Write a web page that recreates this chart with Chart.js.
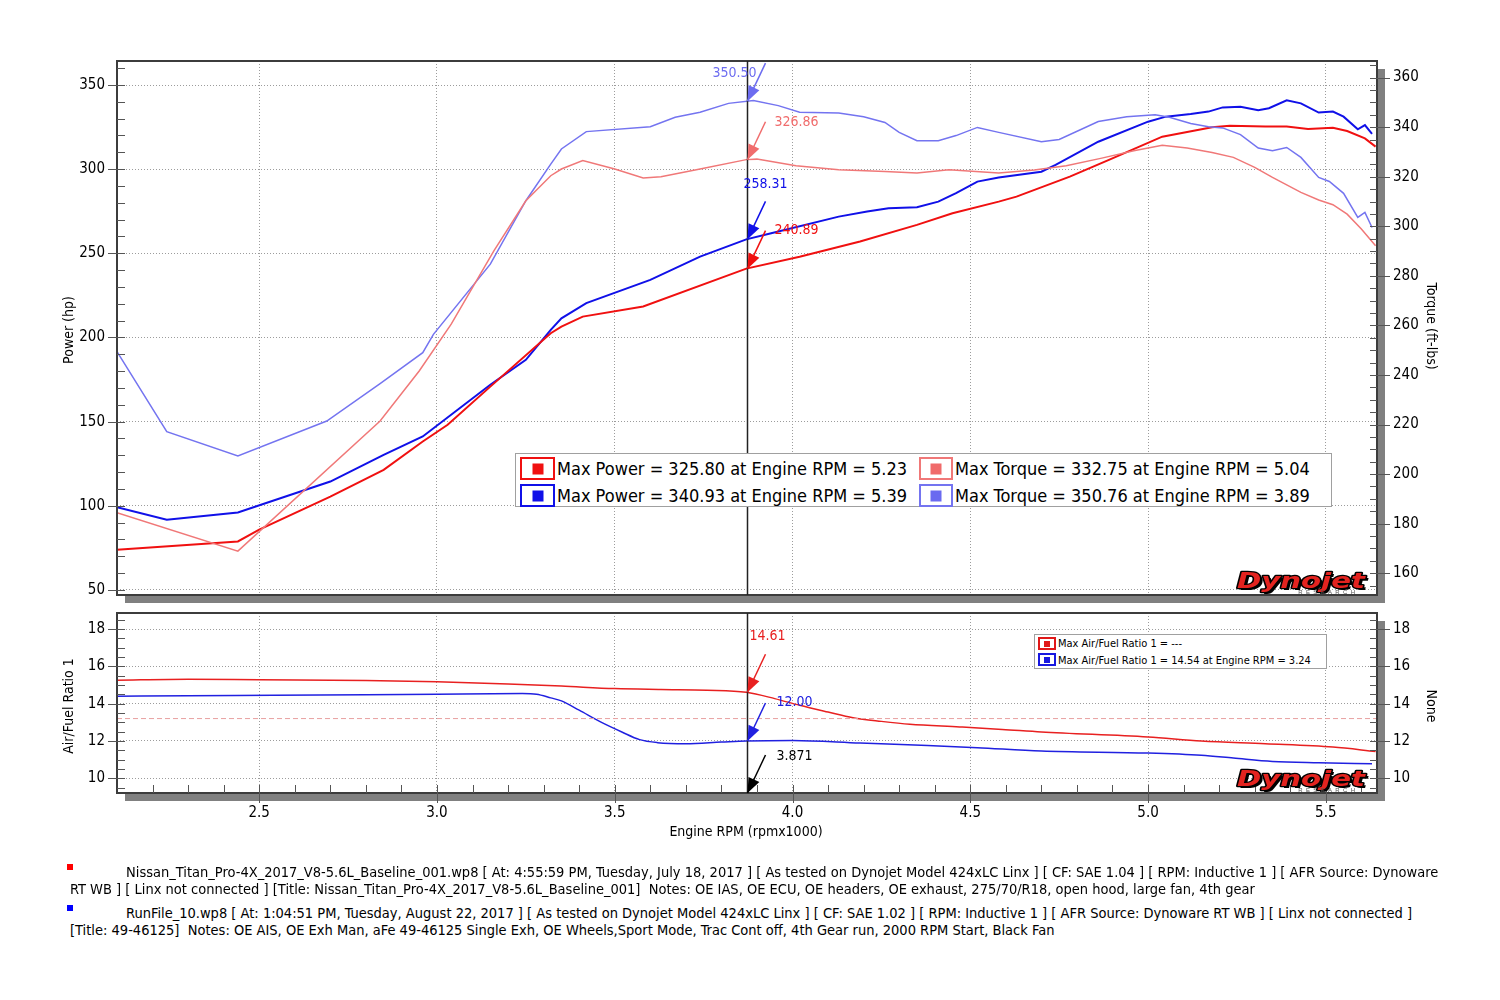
<!DOCTYPE html>
<html>
<head>
<meta charset="utf-8">
<script src="https://cdn.jsdelivr.net/npm/chart.js@4.4.1/dist/chart.umd.min.js"></script>
<style>
  html, body { margin: 0; padding: 0; background: #fff; }
  body { width: 1500px; height: 1000px; position: relative; overflow: hidden;
         font-family: "DejaVu Sans Condensed", "Liberation Sans", sans-serif; color: #000; }
  canvas { position: absolute; left: 0; }
  .ttl { position: absolute; font-size: 14px; white-space: nowrap; transform-origin: center; }
  .box { position: absolute; box-sizing: border-box; background: #fff; border: 1px solid #a0a0a0; }
  .ico { position: absolute; box-sizing: border-box; border: 2px solid; }
  .ico i { position: absolute; left: 50%; top: 50%; transform: translate(-50%, -50%); }
  .txt { position: absolute; white-space: pre; }
  .foot { position: absolute; font-size: 14.5px; white-space: pre; line-height: 17px; }
  .mark { position: absolute; width: 6px; height: 6px; }
</style>
</head>
<body>
<canvas id="top" width="1500" height="620" style="top:0"></canvas>
<canvas id="bottom" width="1500" height="260" style="top:600px"></canvas>

<div class="ttl" style="left:68px;top:330px;transform:translate(-50%,-50%) rotate(-90deg)">Power (hp)</div>
<div class="ttl" style="left:1432px;top:326px;transform:translate(-50%,-50%) rotate(90deg)">Torque (ft-lbs)</div>
<div class="ttl" style="left:68px;top:706px;transform:translate(-50%,-50%) rotate(-90deg)">Air/Fuel Ratio 1</div>
<div class="ttl" style="left:1432px;top:706px;transform:translate(-50%,-50%) rotate(90deg)">None</div>
<div class="ttl" style="left:746px;top:831px;transform:translate(-50%,-50%)">Engine RPM (rpmx1000)</div>

<!-- power / torque legend -->
<div class="box" style="left:515px;top:453px;width:817px;height:54px"></div>
<div class="ico" style="left:520px;top:457px;width:35px;height:23px;border-color:#f01010"><i style="width:11px;height:11px;background:#f01010"></i></div>
<div class="ico" style="left:520px;top:484px;width:35px;height:23px;border-color:#1010e8"><i style="width:11px;height:11px;background:#1010e8"></i></div>
<div class="ico" style="left:919px;top:457px;width:34px;height:23px;border-color:#f07878"><i style="width:11px;height:11px;background:#f06a6a"></i></div>
<div class="ico" style="left:919px;top:484px;width:34px;height:23px;border-color:#7474f0"><i style="width:11px;height:11px;background:#6a6af0"></i></div>
<div class="txt" style="left:557px;top:457px;font-size:18px;line-height:23px">Max Power = 325.80 at Engine RPM = 5.23</div>
<div class="txt" style="left:557px;top:484px;font-size:18px;line-height:23px">Max Power = 340.93 at Engine RPM = 5.39</div>
<div class="txt" style="left:955px;top:457px;font-size:18px;line-height:23px">Max Torque = 332.75 at Engine RPM = 5.04</div>
<div class="txt" style="left:955px;top:484px;font-size:18px;line-height:23px">Max Torque = 350.76 at Engine RPM = 3.89</div>

<!-- AFR legend -->
<div class="box" style="left:1034px;top:634px;width:293px;height:35px"></div>
<div class="ico" style="left:1038px;top:637px;width:18px;height:13px;border-color:#e01818"><i style="width:6px;height:6px;background:#e01818"></i></div>
<div class="ico" style="left:1038px;top:653px;width:18px;height:13px;border-color:#1818e0"><i style="width:6px;height:6px;background:#1818e0"></i></div>
<div class="txt" style="left:1058px;top:637px;font-size:11px;line-height:14px">Max Air/Fuel Ratio 1 = ---</div>
<div class="txt" style="left:1058px;top:654px;font-size:11px;line-height:14px">Max Air/Fuel Ratio 1 = 14.54 at Engine RPM = 3.24</div>

<!-- run notes -->
<div class="mark" style="left:67px;top:864px;background:#f00"></div>
<div class="mark" style="left:67px;top:905px;background:#00f"></div>
<div class="foot" style="left:126px;top:864px">Nissan_Titan_Pro-4X_2017_V8-5.6L_Baseline_001.wp8 [ At: 4:55:59 PM, Tuesday, July 18, 2017 ] [ As tested on Dynojet Model 424xLC Linx ] [ CF: SAE 1.04 ] [ RPM: Inductive 1 ] [ AFR Source: Dynoware</div>
<div class="foot" style="left:70px;top:881px">RT WB ] [ Linx not connected ] [Title: Nissan_Titan_Pro-4X_2017_V8-5.6L_Baseline_001]  Notes: OE IAS, OE ECU, OE headers, OE exhaust, 275/70/R18, open hood, large fan, 4th gear</div>
<div class="foot" style="left:126px;top:905px">RunFile_10.wp8 [ At: 1:04:51 PM, Tuesday, August 22, 2017 ] [ As tested on Dynojet Model 424xLC Linx ] [ CF: SAE 1.02 ] [ RPM: Inductive 1 ] [ AFR Source: Dynoware RT WB ] [ Linx not connected ]</div>
<div class="foot" style="left:70px;top:922px">[Title: 49-46125]  Notes: OE AIS, OE Exh Man, aFe 49-46125 Single Exh, OE Wheels,Sport Mode, Trac Cont off, 4th Gear run, 2000 RPM Start, Black Fan</div>

<script>
// baseline run (red) - power in hp
const basePowerRpm = [2.10, 2.44, 2.50, 2.70, 2.85, 2.96, 3.03, 3.15, 3.32, 3.35, 3.41, 3.58, 3.87, 4.02, 4.19, 4.35, 4.45, 4.58, 4.63, 4.78, 4.89, 5.04, 5.18, 5.23, 5.33, 5.39, 5.45, 5.52, 5.56, 5.61, 5.64];
const basePowerHp  = [73.9, 78.8, 85.8, 105.5, 121.4, 138.2, 148.1, 170.8, 202.5, 206.5, 212.4, 218.4, 240.9, 248.0, 257.0, 266.9, 273.8, 280.7, 283.7, 295.6, 305.5, 319.3, 324.9, 325.8, 325.3, 325.3, 323.9, 324.6, 322.7, 318.3, 313.4];

// aFe run (blue) - power in hp
const afePowerRpm = [2.10, 2.24, 2.44, 2.70, 2.85, 2.96, 3.15, 3.25, 3.32, 3.35, 3.42, 3.60, 3.74, 3.87, 3.94, 4.13, 4.21, 4.27, 4.35, 4.41, 4.46, 4.52, 4.58, 4.70, 4.74, 4.86, 5.00, 5.05, 5.12, 5.17, 5.21, 5.26, 5.31, 5.34, 5.39, 5.43, 5.48, 5.52, 5.55, 5.59, 5.61, 5.63];
const afePowerHp  = [99.2, 91.7, 96.0, 114.4, 130.3, 141.2, 171.9, 186.7, 204.5, 211.4, 220.4, 234.2, 248.0, 258.3, 261.9, 271.8, 274.8, 276.8, 277.4, 280.7, 285.7, 292.6, 295.0, 298.5, 302.5, 316.3, 328.2, 331.2, 332.8, 334.2, 336.7, 337.1, 335.0, 336.2, 340.9, 339.1, 333.6, 334.2, 331.2, 323.7, 326.2, 320.9];

// baseline run (light red) - torque in ft-lbs
const baseTorqueRpm = [2.10, 2.44, 2.84, 2.95, 3.04, 3.16, 3.25, 3.32, 3.35, 3.41, 3.50, 3.58, 3.63, 3.74, 3.87, 3.90, 4.01, 4.13, 4.26, 4.35, 4.44, 4.58, 4.68, 4.77, 4.87, 4.96, 5.04, 5.11, 5.18, 5.24, 5.30, 5.35, 5.43, 5.48, 5.52, 5.56, 5.60, 5.64];
const baseTorqueFt  = [184.4, 168.9, 221.4, 241.6, 260.5, 290.1, 310.3, 320.4, 323.1, 326.5, 323.1, 319.5, 320.0, 323.1, 326.9, 327.1, 324.4, 322.8, 322.1, 321.5, 322.8, 321.5, 322.7, 324.4, 327.5, 330.5, 332.7, 331.6, 329.8, 327.8, 323.8, 319.7, 313.7, 310.6, 308.7, 304.9, 298.9, 292.1];

// aFe run (light blue) - torque in ft-lbs
const afeTorqueRpm = [2.10, 2.24, 2.44, 2.69, 2.84, 2.96, 2.99, 3.15, 3.25, 3.32, 3.35, 3.42, 3.60, 3.67, 3.74, 3.82, 3.89, 3.96, 4.02, 4.13, 4.20, 4.26, 4.30, 4.35, 4.41, 4.46, 4.52, 4.58, 4.70, 4.75, 4.86, 4.94, 5.02, 5.06, 5.12, 5.17, 5.21, 5.26, 5.31, 5.35, 5.39, 5.43, 5.48, 5.51, 5.55, 5.59, 5.61, 5.63];
const afeTorqueFt  = [249.4, 217.1, 207.3, 221.4, 236.5, 249.0, 256.4, 284.7, 310.3, 325.1, 331.2, 338.2, 340.2, 344.0, 346.0, 349.6, 350.8, 348.7, 346.0, 345.7, 344.2, 341.9, 337.9, 334.5, 334.5, 336.6, 339.9, 337.9, 334.1, 335.0, 342.3, 344.2, 345.0, 344.0, 341.5, 340.2, 339.7, 337.0, 331.6, 330.5, 331.8, 327.8, 319.7, 318.1, 313.3, 303.6, 305.6, 299.5];

// air/fuel ratio
const baseAfrRpm = [2.10, 2.30, 2.50, 2.80, 3.00, 3.20, 3.35, 3.50, 3.63, 3.76, 3.87, 3.95, 4.02, 4.10, 4.17, 4.25, 4.33, 4.47, 4.59, 4.70, 5.00, 5.15, 5.33, 5.52, 5.64];
const baseAfr    = [15.26, 15.31, 15.28, 15.24, 15.17, 15.05, 14.94, 14.81, 14.76, 14.72, 14.61, 14.27, 13.91, 13.55, 13.25, 13.05, 12.89, 12.75, 12.62, 12.48, 12.21, 12.00, 11.85, 11.67, 11.44];
const afeAfrRpm  = [2.10, 2.30, 2.54, 2.80, 3.00, 3.24, 3.28, 3.32, 3.35, 3.40, 3.46, 3.52, 3.57, 3.62, 3.70, 3.80, 3.87, 4.00, 4.19, 4.38, 4.52, 4.70, 5.00, 5.15, 5.24, 5.35, 5.48, 5.63];
const afeAfr     = [14.40, 14.43, 14.45, 14.48, 14.51, 14.54, 14.50, 14.31, 14.15, 13.65, 13.02, 12.48, 12.07, 11.91, 11.85, 11.94, 12.00, 12.03, 11.89, 11.76, 11.64, 11.46, 11.35, 11.23, 11.08, 10.90, 10.83, 10.78];
const afrTarget = 13.2;

// cursor readout
const cursorRpm = 3.871;
const topReadout = [350.50, 326.86, 258.31, 240.89];   // afe tq, base tq, afe hp, base hp
const afrReadout = [14.61, 12.00];                     // base afr, afe afr

const rpmMin = 2.1, rpmMax = 5.644;
const FONT = '"DejaVu Sans Condensed", "Liberation Sans", sans-serif';

const pts = (xs, ys) => xs.map((x, i) => ({ x, y: ys[i] }));

// fixed axis width, and no extra label padding pushing the plot area in
const fixWidth = w => s => { s.width = w; s.paddingTop = 0; s.paddingBottom = 0; };

function ticksY(ctx, scale, lo, hi, step, xa, xb) {
  const n = Math.round((hi - lo) / step);
  ctx.beginPath();
  for (let i = 0; i <= n; i++) {
    const y = Math.round(scale.getPixelForValue(lo + i * step)) + 0.5;
    ctx.moveTo(xa, y); ctx.lineTo(xb, y);
  }
  ctx.stroke();
}

function ticksX(ctx, scale, lo, hi, step, ya, yb) {
  const n = Math.round((hi - lo) / step);
  ctx.beginPath();
  for (let i = 0; i <= n; i++) {
    const x = Math.round(scale.getPixelForValue(lo + i * step)) + 0.5;
    ctx.moveTo(x, ya); ctx.lineTo(x, yb);
  }
  ctx.stroke();
}

function arrow(ctx, tx, ty, color) {
  const sx = tx + 18, sy = ty - 38;
  const a = Math.atan2(ty - sy, tx - sx), L = 15, W = 6;
  ctx.save();
  ctx.strokeStyle = color; ctx.fillStyle = color; ctx.lineWidth = 1.5;
  ctx.beginPath(); ctx.moveTo(sx, sy); ctx.lineTo(tx, ty); ctx.stroke();
  ctx.beginPath();
  ctx.moveTo(tx, ty);
  ctx.lineTo(tx - L * Math.cos(a) + W * Math.sin(a), ty - L * Math.sin(a) - W * Math.cos(a));
  ctx.lineTo(tx - L * Math.cos(a) - W * Math.sin(a), ty - L * Math.sin(a) + W * Math.cos(a));
  ctx.closePath(); ctx.fill();
  ctx.restore();
}

function label(ctx, text, x, y, color, align) {
  ctx.save();
  ctx.font = '14px ' + FONT;
  ctx.fillStyle = color; ctx.textAlign = align || 'left'; ctx.textBaseline = 'middle';
  ctx.fillText(text, x, y);
  ctx.restore();
}

function logo(ctx, area) {
  const x = area.right - 12, y = area.bottom - 7;
  ctx.save();
  ctx.font = 'italic bold 22px "DejaVu Sans", sans-serif';
  const w = ctx.measureText('Dynojet').width;
  ctx.translate(x - 128, y);
  ctx.scale(128 / w, 1);
  ctx.lineJoin = 'round';
  ctx.fillStyle = '#000'; ctx.fillText('Dynojet', 2, 1.5);
  ctx.lineWidth = 2.5; ctx.strokeStyle = '#000'; ctx.strokeText('Dynojet', 0, 0);
  ctx.fillStyle = '#e3231f'; ctx.fillText('Dynojet', 0, 0);
  ctx.restore();
  ctx.save();
  ctx.font = '6px sans-serif'; ctx.fillStyle = '#555'; ctx.textAlign = 'right';
  ctx.fillText('R  E  S  E  A  R  C  H', x - 10, y + 6);
  ctx.restore();
}

// shadowed plot frame, ticks, cursor
const frame = {
  id: 'frame',
  beforeDraw(chart) {
    const { ctx, chartArea: a } = chart;
    ctx.save();
    ctx.fillStyle = '#808080';
    ctx.fillRect(a.left + 8, a.top + 8, a.right - a.left, a.bottom - a.top);
    ctx.fillStyle = '#fff';
    ctx.fillRect(a.left, a.top, a.right - a.left, a.bottom - a.top);
    ctx.restore();
  },
  afterDraw(chart, args, opts) {
    const { ctx, chartArea: a, scales } = chart;
    ctx.save();
    ctx.strokeStyle = '#3c3c3c'; ctx.lineWidth = 2;
    ctx.strokeRect(a.left, a.top, a.right - a.left, a.bottom - a.top);
    ctx.strokeStyle = '#555'; ctx.lineWidth = 1;
    const L = scales[opts.left], R = scales[opts.right];
    ticksY(ctx, L, opts.lMinor[0], opts.lMinor[1], opts.lMinor[2], a.left, a.left + 8);
    ticksY(ctx, L, opts.lMajor[0], opts.lMajor[1], opts.lMajor[2], a.left - 9, a.left + 8);
    ticksY(ctx, R, opts.rMinor[0], opts.rMinor[1], opts.rMinor[2], a.right - 7, a.right);
    ticksY(ctx, R, opts.rMajor[0], opts.rMajor[1], opts.rMajor[2], a.right - 7, a.right + 13);
    if (opts.xTicks) {
      ticksX(ctx, scales.x, 2.2, 5.6, 0.1, a.bottom - 8, a.bottom);
      ticksX(ctx, scales.x, 2.5, 5.5, 0.5, a.bottom - 8, a.bottom + 10);
    }
    const cx = Math.round(scales.x.getPixelForValue(cursorRpm)) + 0.5;
    ctx.strokeStyle = '#222'; ctx.lineWidth = 1.5;
    ctx.beginPath(); ctx.moveTo(cx, a.top); ctx.lineTo(cx, a.bottom); ctx.stroke();
    ctx.restore();
    logo(ctx, a);
    opts.readout(chart, cx);
  }
};

const thinGrid = { color: '#9c9c9c', lineWidth: 1, drawTicks: false };
const tickFont = { family: FONT, size: 15 };

new Chart(document.getElementById('top'), {
  type: 'line',
  data: {
    datasets: [
      { data: pts(baseTorqueRpm, baseTorqueFt), yAxisID: 'yT', borderColor: '#f07878', borderWidth: 1.5 },
      { data: pts(afeTorqueRpm, afeTorqueFt), yAxisID: 'yT', borderColor: '#7474f0', borderWidth: 1.5 },
      { data: pts(basePowerRpm, basePowerHp), yAxisID: 'yP', borderColor: '#f01010', borderWidth: 2 },
      { data: pts(afePowerRpm, afePowerHp), yAxisID: 'yP', borderColor: '#1010e8', borderWidth: 2 }
    ]
  },
  options: {
    responsive: false,
    animation: false,
    parsing: false,
    elements: { point: { radius: 0 }, line: { tension: 0 } },
    layout: { padding: { top: 61, bottom: 25, left: 0, right: 0 } },
    plugins: {
      legend: { display: false },
      tooltip: { enabled: false },
      frame: {
        left: 'yP', right: 'yT',
        lMinor: [50, 360, 10], lMajor: [50, 350, 50],
        rMinor: [155, 365, 5], rMajor: [160, 360, 20],
        xTicks: false,
        readout(chart, cx) {
          const { ctx, scales } = chart;
          const t = [
            scales.yT.getPixelForValue(topReadout[0]),
            scales.yT.getPixelForValue(topReadout[1]),
            scales.yP.getPixelForValue(topReadout[2]),
            scales.yP.getPixelForValue(topReadout[3])
          ];
          arrow(ctx, cx, t[0], '#6c6cf0');
          label(ctx, topReadout[0].toFixed(2), cx + 9, t[0] - 28, '#6c6cf0', 'right');
          arrow(ctx, cx, t[1], '#f06c6c');
          label(ctx, topReadout[1].toFixed(2), cx + 27, t[1] - 37, '#f06c6c');
          arrow(ctx, cx, t[2], '#1010e8');
          label(ctx, topReadout[2].toFixed(2), cx + 18, t[2] - 55, '#1010e8', 'center');
          arrow(ctx, cx, t[3], '#f01010');
          label(ctx, topReadout[3].toFixed(2), cx + 27, t[3] - 38, '#f01010');
        }
      }
    },
    scales: {
      x: {
        type: 'linear', min: rpmMin, max: rpmMax,
        afterFit: s => { s.height = 0; },
        ticks: { display: false, stepSize: 0.5, includeBounds: false },
        grid: thinGrid,
        border: { display: false, dash: [1, 2] }
      },
      yP: {
        type: 'linear', position: 'left', min: 47, max: 364.26,
        afterFit: fixWidth(117),
        ticks: { stepSize: 50, includeBounds: false, padding: 12, color: '#000', font: tickFont },
        grid: thinGrid,
        border: { display: false, dash: [1, 2] }
      },
      yT: {
        type: 'linear', position: 'right', min: 151.2, max: 366.7,
        afterFit: fixWidth(123),
        ticks: { stepSize: 20, includeBounds: false, padding: 16, color: '#000', font: tickFont },
        grid: { display: false, drawTicks: false },
        border: { display: false }
      }
    }
  },
  plugins: [frame]
});

new Chart(document.getElementById('bottom'), {
  type: 'line',
  data: {
    datasets: [
      { data: [{ x: rpmMin, y: afrTarget }, { x: rpmMax, y: afrTarget }], yAxisID: 'yA',
        borderColor: '#e8a0a0', borderWidth: 1, borderDash: [5, 3] },
      { data: pts(baseAfrRpm, baseAfr), yAxisID: 'yA', borderColor: '#e82020', borderWidth: 1.5,
        cubicInterpolationMode: 'monotone' },
      { data: pts(afeAfrRpm, afeAfr), yAxisID: 'yA', borderColor: '#2020e0', borderWidth: 1.5,
        cubicInterpolationMode: 'monotone' }
    ]
  },
  options: {
    responsive: false,
    animation: false,
    parsing: false,
    elements: { point: { radius: 0 } },
    layout: { padding: { top: 13, bottom: 0, left: 0, right: 0 } },
    plugins: {
      legend: { display: false },
      tooltip: { enabled: false },
      frame: {
        left: 'yA', right: 'yA2',
        lMinor: [9.5, 18.5, 0.5], lMajor: [10, 18, 2],
        rMinor: [9.5, 18.5, 0.5], rMajor: [10, 18, 2],
        xTicks: true,
        readout(chart, cx) {
          const { ctx, scales, chartArea } = chart;
          const t0 = scales.yA.getPixelForValue(afrReadout[0]);
          const t1 = scales.yA.getPixelForValue(afrReadout[1]);
          arrow(ctx, cx, t0, '#e82020');
          label(ctx, afrReadout[0].toFixed(2), cx + 2, t0 - 56, '#e82020');
          arrow(ctx, cx, t1, '#2020e0');
          label(ctx, afrReadout[1].toFixed(2), cx + 29, t1 - 39, '#2020e0');
          arrow(ctx, cx, chartArea.bottom, '#000');
          label(ctx, cursorRpm.toFixed(3), cx + 29, chartArea.bottom - 37, '#000');
        }
      }
    },
    scales: {
      x: {
        type: 'linear', min: rpmMin, max: rpmMax,
        afterFit: s => { s.height = 67; },
        ticks: { stepSize: 0.5, includeBounds: false, padding: 11, color: '#000', font: tickFont,
                 maxRotation: 0, callback: v => v.toFixed(1) },
        grid: thinGrid,
        border: { display: false, dash: [1, 2] }
      },
      yA: {
        type: 'linear', position: 'left', min: 9.21, max: 18.86,
        afterFit: fixWidth(117),
        ticks: { stepSize: 2, includeBounds: false, padding: 12, color: '#000', font: tickFont },
        grid: thinGrid,
        border: { display: false, dash: [1, 2] }
      },
      yA2: {
        type: 'linear', position: 'right', min: 9.21, max: 18.86,
        afterFit: fixWidth(123),
        ticks: { stepSize: 2, includeBounds: false, padding: 16, color: '#000', font: tickFont },
        grid: { display: false, drawTicks: false },
        border: { display: false }
      }
    }
  },
  plugins: [frame]
});
</script>
</body>
</html>
